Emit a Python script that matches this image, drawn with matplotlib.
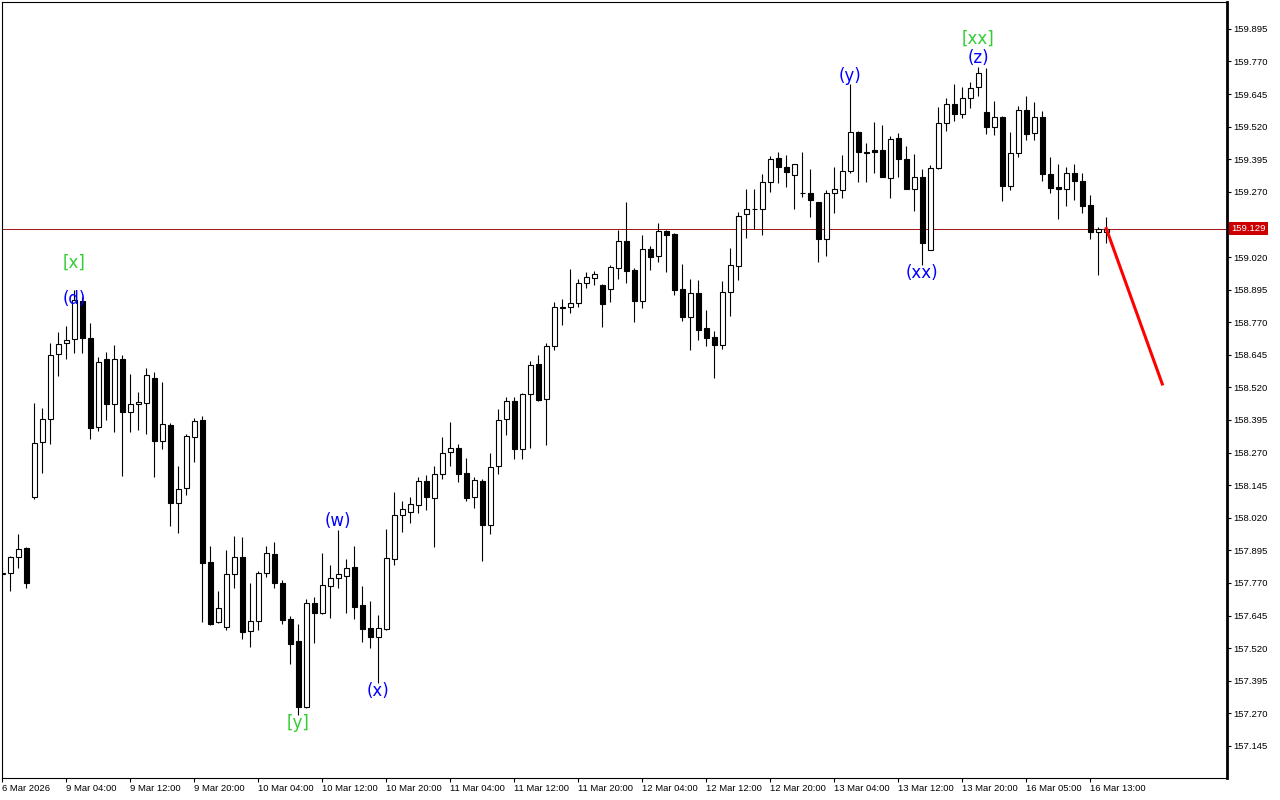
"""H1 candlestick chart with Elliott wave labels and a forecast line."""

import matplotlib

matplotlib.use("Agg")
import matplotlib.pyplot as plt
import matplotlib.transforms as mtransforms
import numpy as np


# hourly bars, oldest first
OPEN = [
    157.805, 157.807, 157.871, 157.903, 158.101, 158.310, 158.398, 158.647, 158.689, 158.705,
    158.852, 158.709, 158.370, 158.629, 158.456, 158.629, 158.427, 158.456, 158.462, 158.556,
    158.316, 158.376, 158.076, 158.133, 158.331, 158.395, 157.850, 157.622, 157.603, 157.804,
    157.870, 157.585, 157.623, 157.807, 157.881, 157.770, 157.632, 157.548, 157.294, 157.694,
    157.654, 157.758, 157.789, 157.798, 157.830, 157.685, 157.597, 157.564, 157.593, 157.861,
    158.031, 158.041, 158.068, 158.160, 158.095, 158.189, 158.271, 158.287, 158.191, 158.099,
    158.160, 157.991, 158.218, 158.398, 158.467, 158.283, 158.494, 158.610, 158.475, 158.678,
    158.828, 158.828, 158.843, 158.920, 158.939, 158.912, 158.897, 158.977, 159.082, 158.971,
    158.853, 159.051, 159.022, 159.120, 159.109, 158.898, 158.791, 158.881, 158.747, 158.712,
    158.684, 158.887, 158.987, 159.184, 159.203, 159.203, 159.307, 159.399, 159.364, 159.334,
    159.267, 159.265, 159.230, 159.088, 159.265, 159.276, 159.351, 159.499, 159.424, 159.430,
    159.430, 159.322, 159.476, 159.395, 159.280, 159.326, 159.047, 159.361, 159.533, 159.606,
    159.568, 159.629, 159.671, 159.575, 159.520, 159.556, 159.294, 159.418, 159.584, 159.495,
    159.556, 159.338, 159.288, 159.280, 159.341, 159.312, 159.220, 159.117, 159.115,
]
HIGH = [
    157.830, 157.874, 157.958, 157.909, 158.459, 158.440, 158.689, 158.732, 158.756, 158.894,
    158.868, 158.766, 158.636, 158.655, 158.682, 158.643, 158.572, 158.503, 158.595, 158.579,
    158.541, 158.385, 158.219, 158.342, 158.404, 158.411, 157.912, 157.741, 157.897, 157.952,
    157.948, 157.771, 157.816, 157.913, 157.928, 157.782, 157.644, 157.613, 157.709, 157.718,
    157.884, 157.837, 157.975, 157.862, 157.913, 157.759, 157.700, 157.647, 157.977, 158.119,
    158.085, 158.100, 158.178, 158.183, 158.219, 158.330, 158.388, 158.302, 158.248, 158.176,
    158.168, 158.268, 158.436, 158.482, 158.482, 158.498, 158.620, 158.645, 158.689, 158.847,
    158.859, 158.974, 158.936, 158.962, 158.968, 158.916, 158.990, 159.124, 159.231, 158.977,
    159.104, 159.063, 159.150, 159.125, 159.111, 158.994, 158.936, 158.932, 158.817, 158.737,
    158.928, 159.056, 159.194, 159.281, 159.281, 159.339, 159.408, 159.422, 159.412, 159.376,
    159.422, 159.357, 159.232, 159.277, 159.367, 159.412, 159.683, 159.504, 159.456, 159.539,
    159.527, 159.486, 159.495, 159.446, 159.415, 159.357, 159.373, 159.595, 159.629, 159.684,
    159.671, 159.693, 159.750, 159.744, 159.619, 159.560, 159.499, 159.601, 159.638, 159.616,
    159.580, 159.405, 159.377, 159.367, 159.377, 159.341, 159.258, 159.134, 159.173,
]
LOW = [
    157.780, 157.741, 157.827, 157.750, 158.091, 158.191, 158.301, 158.565, 158.628, 158.653,
    158.651, 158.321, 158.354, 158.395, 158.350, 158.182, 158.350, 158.357, 158.343, 158.178,
    158.284, 157.990, 157.963, 158.108, 158.234, 157.622, 157.610, 157.615, 157.590, 157.752,
    157.555, 157.526, 157.590, 157.794, 157.752, 157.614, 157.461, 157.265, 157.290, 157.541,
    157.650, 157.637, 157.752, 157.654, 157.633, 157.545, 157.521, 157.388, 157.590, 157.837,
    157.967, 157.999, 158.038, 158.048, 157.909, 158.170, 158.219, 158.159, 158.086, 158.057,
    157.856, 157.957, 158.189, 158.339, 158.247, 158.245, 158.287, 158.469, 158.299, 158.665,
    158.760, 158.807, 158.830, 158.903, 158.913, 158.751, 158.849, 158.935, 158.922, 158.772,
    158.826, 158.971, 159.002, 158.964, 158.875, 158.776, 158.664, 158.702, 158.680, 158.557,
    158.668, 158.795, 158.930, 159.094, 159.127, 159.105, 159.271, 159.305, 159.290, 159.206,
    159.249, 159.175, 159.002, 159.025, 159.190, 159.248, 159.341, 159.309, 159.309, 159.344,
    159.325, 159.246, 159.325, 159.280, 159.198, 158.990, 159.047, 159.357, 159.504, 159.542,
    159.555, 159.593, 159.639, 159.491, 159.488, 159.233, 159.277, 159.403, 159.467, 159.467,
    159.313, 159.267, 159.165, 159.217, 159.239, 159.190, 159.089, 158.951, 159.073,
]
CLOSE = [
    157.810, 157.869, 157.899, 157.771, 158.306, 158.398, 158.643, 158.688, 158.701, 158.856,
    158.711, 158.366, 158.617, 158.458, 158.629, 158.427, 158.456, 158.463, 158.568, 158.316,
    158.380, 158.076, 158.131, 158.334, 158.390, 157.848, 157.612, 157.673, 157.805, 157.870,
    157.583, 157.625, 157.809, 157.884, 157.768, 157.629, 157.537, 157.296, 157.694, 157.654,
    157.763, 157.789, 157.805, 157.827, 157.679, 157.593, 157.564, 157.597, 157.865, 158.030,
    158.053, 158.072, 158.160, 158.101, 158.187, 158.268, 158.287, 158.189, 158.097, 158.164,
    157.991, 158.216, 158.394, 158.467, 158.283, 158.494, 158.605, 158.472, 158.678, 158.828,
    158.826, 158.843, 158.920, 158.943, 158.954, 158.839, 158.981, 159.081, 158.968, 158.853,
    159.050, 159.019, 159.120, 159.106, 158.894, 158.791, 158.881, 158.740, 158.711, 158.684,
    158.885, 158.989, 159.177, 159.203, 159.205, 159.307, 159.395, 159.364, 159.345, 159.376,
    159.265, 159.238, 159.088, 159.265, 159.280, 159.350, 159.499, 159.424, 159.420, 159.424,
    159.325, 159.473, 159.395, 159.280, 159.325, 159.075, 159.361, 159.533, 159.606, 159.568,
    159.629, 159.667, 159.725, 159.520, 159.556, 159.294, 159.418, 159.584, 159.491, 159.556,
    159.338, 159.284, 159.280, 159.341, 159.313, 159.217, 159.117, 159.128, 159.129,
]

# time axis labels, one every 8 bars
TIME_LABELS = [
    "6 Mar 2026", "9 Mar 04:00", "9 Mar 12:00", "9 Mar 20:00", "10 Mar 04:00",
    "10 Mar 12:00", "10 Mar 20:00", "11 Mar 04:00", "11 Mar 12:00", "11 Mar 20:00",
    "12 Mar 04:00", "12 Mar 12:00", "12 Mar 20:00", "13 Mar 04:00", "13 Mar 12:00",
    "13 Mar 20:00", "16 Mar 05:00", "16 Mar 13:00",
]
LABEL_STEP = 8

# wave marks: text, bar, anchored to high/low, vertical offset (px), colour
WAVE_LABELS = [
    ("[x]", 9, "high", 27, "#32cd32"),
    ("(d)", 9, "high", -9, "#0000ff"),
    ("(w)", 42, "high", 9, "#0000ff"),
    ("[y]", 37, "low", -8, "#32cd32"),
    ("(x)", 47, "low", -8, "#0000ff"),
    ("(y)", 106, "high", 8, "#0000ff"),
    ("(xx)", 115, "low", -8, "#0000ff"),
    ("[xx]", 122, "high", 28, "#32cd32"),
    ("(z)", 122, "high", 9, "#0000ff"),
]

# projected move drawn in red
FORECAST_BARS = [138, 145]
FORECAST_PRICES = [159.129, 158.533]

PRICE_STEP = 0.125
PRICE_FIRST = 157.145
PRICE_LAST = 159.895


def plot_chart(output_path="out.png"):
    plt.rcParams["font.family"] = ["DejaVu Sans"]
    fig = plt.figure(figsize=(12.8, 8), dpi=100)
    ax = fig.add_axes([2 / 1280, 22 / 800, 1225 / 1280, 776 / 800])

    bars = np.arange(len(CLOSE))
    opens = np.array(OPEN)
    closes = np.array(CLOSE)
    up = closes >= opens

    ax.vlines(bars, LOW, HIGH, color="black", linewidth=0.8, zorder=2)
    ax.bar(
        bars,
        np.abs(closes - opens),
        bottom=np.minimum(opens, closes),
        width=0.6,
        color=np.where(up, "white", "black"),
        edgecolor="black",
        linewidth=0.8,
        zorder=3,
    )

    last = CLOSE[-1]
    ax.axhline(last, color="#a01010", linewidth=0.7, zorder=1)
    ax.plot(FORECAST_BARS, FORECAST_PRICES, color="#ff0000", linewidth=2.2, zorder=4)

    for text, bar, side, offset, colour in WAVE_LABELS:
        price = HIGH[bar] if side == "high" else LOW[bar]
        ax.annotate(
            text,
            (bar, price),
            xytext=(0, offset),
            textcoords="offset pixels",
            ha="center",
            va="center",
            fontsize=12,
            color=colour,
            zorder=5,
        )

    ax.set_xlim(-0.0375, 153.09)
    ax.set_ylim(157.022, 159.998)

    ticks = np.arange(PRICE_FIRST, PRICE_LAST + PRICE_STEP / 2, PRICE_STEP)
    ax.yaxis.tick_right()
    ax.set_yticks(ticks)
    ax.set_yticklabels([f"{t:.3f}" for t in ticks])
    ax.set_xticks(np.arange(len(TIME_LABELS)) * LABEL_STEP)
    ax.set_xticklabels(TIME_LABELS, ha="left")
    ax.tick_params(
        axis="both", direction="out", length=3, width=0.8, labelsize=6.8,
        pad=1.5, colors="black",
    )
    for label in ax.get_xticklabels() + ax.get_yticklabels():
        label.set_fontfamily(["Liberation Sans", "DejaVu Sans"])

    for name, spine in ax.spines.items():
        spine.set_color("black")
        spine.set_linewidth(2.0 if name == "right" else 0.8)

    # current price tag over the right scale
    tag_transform = mtransforms.blended_transform_factory(ax.transAxes, ax.transData)
    ax.text(
        1.0035, last, f"{last:.3f}",
        transform=tag_transform, ha="left", va="center", fontsize=6.8,
        fontfamily=["Liberation Sans", "DejaVu Sans"], color="white",
        bbox=dict(boxstyle="square,pad=0.2", facecolor="#cc0000", edgecolor="none"),
        clip_on=False, zorder=6,
    )

    fig.savefig(output_path, dpi=100, facecolor="white")
    plt.close(fig)


if __name__ == "__main__":
    plot_chart()
